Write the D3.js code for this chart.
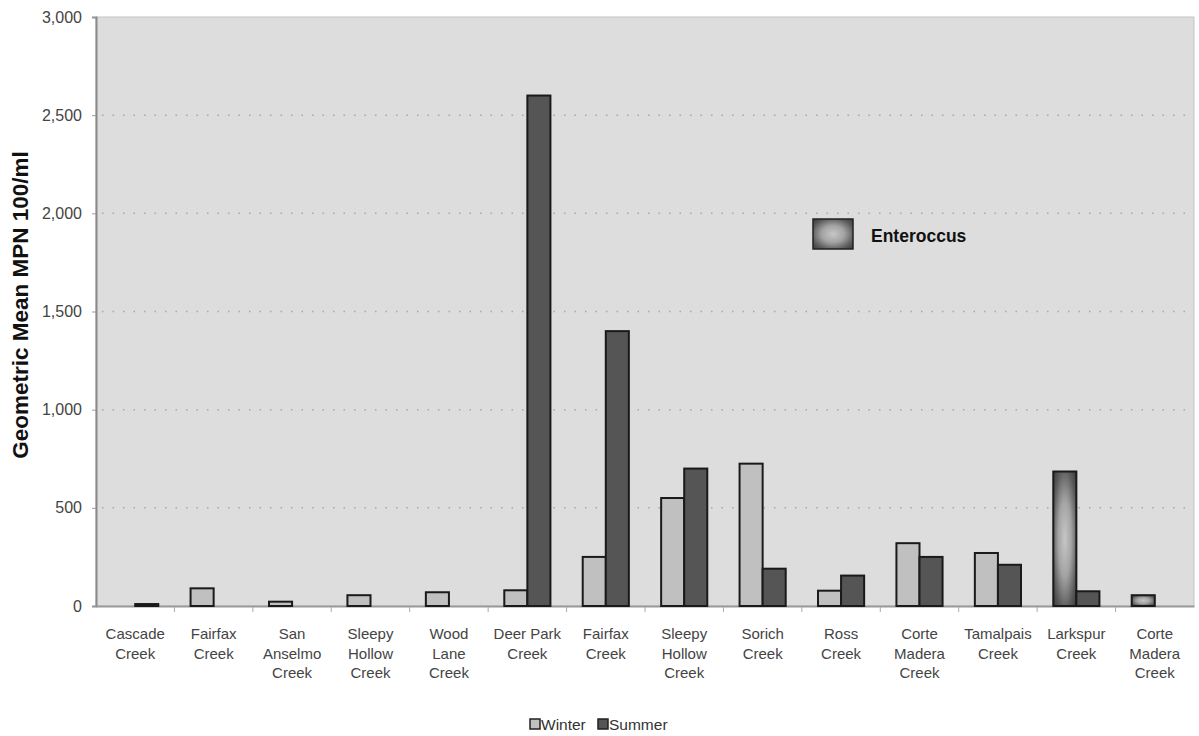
<!DOCTYPE html>
<html lang="en">
<head>
  <meta charset="UTF-8">
  <title>Enterococcus geometric mean</title>
  <script src="https://d3js.org/d3.v7.min.js"></script>
  <style>
    body { margin: 0; background: #fff; }
    svg { font-family: "Liberation Sans", Arial, sans-serif; }
  </style>
</head>
<body>
  <div id="chart"></div>
  <script>
    // creek names, one entry per group (names repeat, so index is the key)
    const creeks = [
      'Cascade\nCreek', 'Fairfax\nCreek', 'San\nAnselmo\nCreek', 'Sleepy\nHollow\nCreek',
      'Wood\nLane\nCreek', 'Deer Park\nCreek', 'Fairfax\nCreek', 'Sleepy\nHollow\nCreek',
      'Sorich\nCreek', 'Ross\nCreek', 'Corte\nMadera\nCreek', 'Tamalpais\nCreek',
      'Larkspur\nCreek', 'Corte\nMadera\nCreek'
    ]
    const seasons = ['Winter', 'Summer']
    const winter = [0, 90, 22, 55, 70, 80, 250, 550, 725, 78, 320, 270, 685, 55]
    const summer = [10, 0, 0, 0, 0, 2600, 1400, 700, 190, 155, 250, 210, 75, 0]
    // bars drawn with the Enterococcus gradient
    const enteroIdx = [12, 13]
    const yTicks = [0, 500, 1000, 1500, 2000, 2500, 3000]

    const width = 1199, height = 736
    const margin = { top: 17, right: 5, bottom: 130, left: 96 }

    const svg = d3.select('#chart').append('svg')
      .attr('width', width)
      .attr('height', height)

    const defs = svg.append('defs')
    const grad = defs.append('radialGradient')
      .attr('id', 'entero')
      .attr('cx', '50%').attr('cy', '50%').attr('r', '70%')
    grad.append('stop').attr('offset', '0%').attr('stop-color', '#c6c6c6')
    grad.append('stop').attr('offset', '40%').attr('stop-color', '#a4a4a4')
    grad.append('stop').attr('offset', '75%').attr('stop-color', '#5c5c5c')
    grad.append('stop').attr('offset', '100%').attr('stop-color', '#3a3a3a')

    const x0 = d3.scaleBand()
      .domain(d3.range(creeks.length))
      .range([margin.left, width - margin.right])

    const x1 = d3.scaleBand()
      .domain(seasons)
      .range([0, x0.bandwidth()])
      .paddingOuter(0.7)

    const y = d3.scaleLinear()
      .domain([0, 3000])
      .range([height - margin.bottom, margin.top])

    // plot area
    svg.append('rect')
      .attr('x', margin.left)
      .attr('y', margin.top)
      .attr('width', width - margin.right - margin.left)
      .attr('height', y(0) - margin.top)
      .attr('fill', '#dddddd')
      .attr('stroke', '#c4c4c4')

    // dotted gridlines
    svg.selectAll('.grid')
      .data(yTicks.filter(d => d > 0 && d < 3000))
      .enter().append('line')
      .attr('x1', margin.left + 6)
      .attr('x2', width - margin.right)
      .attr('y1', d => y(d))
      .attr('y2', d => y(d))
      .attr('stroke', '#a8a8a8')
      .attr('stroke-width', 1.5)
      .attr('stroke-dasharray', '1.5,9')

    // y axis
    const yAxis = svg.append('g')
      .attr('transform', `translate(${margin.left},0)`)
      .call(d3.axisLeft(y).tickValues(yTicks).tickSize(4).tickPadding(10)
        .tickFormat(d3.format(',')))
    yAxis.select('.domain').attr('stroke', '#8a8a8a').attr('stroke-width', 2)
    yAxis.selectAll('.tick line').attr('stroke', '#999')
    yAxis.selectAll('text')
      .attr('font-size', 16)
      .attr('fill', '#444')

    // x axis
    const xAxis = svg.append('g')
      .attr('transform', `translate(0,${y(0)})`)
      .call(d3.axisBottom(x0).tickSize(0).tickFormat(''))
    xAxis.select('.domain').attr('stroke', '#9a9a9a').attr('stroke-width', 2)

    // category separator ticks
    svg.selectAll('.sep')
      .data(d3.range(1, creeks.length))
      .enter().append('line')
      .attr('x1', d => x0(d))
      .attr('x2', d => x0(d))
      .attr('y1', y(0) + 1)
      .attr('y2', y(0) + 6)
      .attr('stroke', '#aaa')

    // category labels
    const lbl = svg.selectAll('.xlabel')
      .data(creeks)
      .enter().append('text')
      .attr('class', 'xlabel')
      .attr('text-anchor', 'middle')
      .attr('font-size', 15)
      .attr('fill', '#444')
    lbl.each(function (d, i) {
      const t = d3.select(this)
      d.split('\n').forEach((line, k) => {
        t.append('tspan')
          .attr('x', x0(i) + x0.bandwidth() / 2)
          .attr('y', y(0) + 33 + k * 19.5)
          .text(line)
      })
    })

    // bars
    const rows = creeks.map((c, i) => ({ i: i, Winter: winter[i], Summer: summer[i] }))
    const groups = svg.selectAll('.group')
      .data(rows)
      .enter().append('g')
      .attr('transform', d => `translate(${x0(d.i)},0)`)

    groups.selectAll('rect')
      .data(d => seasons.map(s => ({ i: d.i, key: s, value: d[s] })))
      .enter().append('rect')
      .filter(d => d.value > 0)
      .attr('x', d => x1(d.key))
      .attr('y', d => y(d.value))
      .attr('width', x1.bandwidth())
      .attr('height', d => y(0) - y(d.value))
      .attr('fill', d => {
        if (d.key === 'Winter' && enteroIdx.indexOf(d.i) !== -1) return 'url(#entero)'
        return d.key === 'Winter' ? '#c0c0c0' : '#555555'
      })
      .attr('stroke', '#1a1a1a')
      .attr('stroke-width', 2)

    // y title
    svg.append('text')
      .attr('transform', 'translate(28,305) rotate(-90)')
      .attr('text-anchor', 'middle')
      .attr('font-size', 22.5)
      .attr('font-weight', 'bold')
      .attr('fill', '#111')
      .text('Geometric Mean MPN 100/ml')

    // Enterococcus legend
    svg.append('rect')
      .attr('x', 813).attr('y', 219)
      .attr('width', 40).attr('height', 30)
      .attr('fill', 'url(#entero)')
      .attr('stroke', '#222')
      .attr('stroke-width', 1.5)
    svg.append('text')
      .attr('x', 871).attr('y', 242)
      .attr('font-size', 17.5)
      .attr('font-weight', 'bold')
      .attr('fill', '#111')
      .text('Enteroccus')

    // season legend
    const legend = svg.append('g')
      .attr('transform', 'translate(530,719)')
    const legendX = { Winter: 0, Summer: 68 }
    seasons.forEach(s => {
      legend.append('rect')
        .attr('x', legendX[s]).attr('y', 0)
        .attr('width', 10).attr('height', 10)
        .attr('fill', s === 'Winter' ? '#c0c0c0' : '#555555')
        .attr('stroke', '#222')
        .attr('stroke-width', 1.5)
      legend.append('text')
        .attr('x', legendX[s] + 11).attr('y', 11)
        .attr('font-size', 15.5)
        .attr('fill', '#333')
        .text(s)
    })
  </script>
</body>
</html>
